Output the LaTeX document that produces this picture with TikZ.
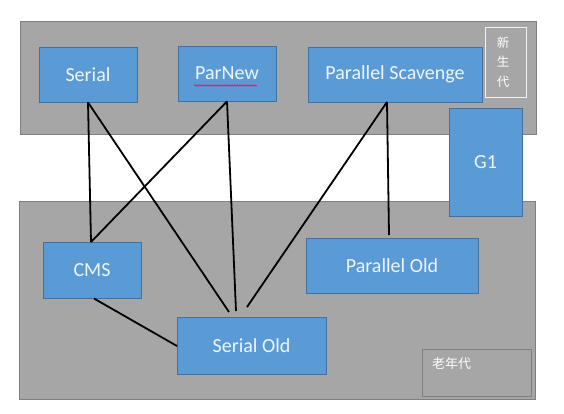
\documentclass[tikz,border=0pt]{standalone}
\usepackage{fontspec}
\setmainfont{Carlito}
\newfontfamily\cjk{Noto Sans CJK SC}
\usetikzlibrary{decorations.pathmorphing}
\definecolor{bandgray}{HTML}{A6A6A6}
\definecolor{bandedge}{HTML}{7F7F7F}
\definecolor{boxblue}{HTML}{5B9BD5}
\definecolor{boxedge}{HTML}{41719C}
\definecolor{boxtext}{HTML}{EEF5FC}
\tikzset{
  band/.style={fill=bandgray,draw=bandedge,line width=0.8pt},
  gcbox/.style={fill=boxblue,draw=boxedge,line width=0.8pt,inner sep=0pt,
    text=boxtext,font=\fontsize{20}{24}\selectfont},
  link/.style={black,line width=1.8pt},
  tag/.style={draw=#1,line width=0.9pt,inner sep=0pt,text=white},
}
\begin{document}
\begin{tikzpicture}[x=1pt,y=-1pt]
\useasboundingbox (0,0) rectangle (564,413);
% generation bands
\node[band,minimum width=516pt,minimum height=113pt,inner sep=0pt] (young) at (278,77.5) {};
\node[band,minimum width=516pt,minimum height=198pt,inner sep=0pt] (old) at (277,300) {};
% labels of bands
\node[tag=white!95!black,minimum width=41pt,minimum height=70pt] (younglabel) at (505.5,62) {};
\node[text=white,font=\cjk\fontsize{12.5}{19.5}\selectfont,align=center,inner sep=0pt] (youngtext) at (503,62) {新\\生\\代};
\node[tag=bandedge,minimum width=109pt,minimum height=47pt] (oldlabel) at (476.5,372.5) {};
\node[text=white,font=\cjk\fontsize{13}{15}\selectfont,anchor=west,inner sep=0pt] (oldtext) at (432,364) {老年代};
% collectors
\node[gcbox,minimum width=98pt,minimum height=55pt] (serial) at (88,74.5) {Serial};
\node[gcbox,minimum width=98pt,minimum height=55pt] (parnew) at (227,73.5) {ParNew};
\node[gcbox,minimum width=174pt,minimum height=55pt] (ps) at (395,74.5) {Parallel Scavenge};
\node[gcbox,minimum width=73pt,minimum height=108pt] (g1) at (485.5,162) {G1};
\node[gcbox,minimum width=98pt,minimum height=56pt] (cms) at (92,270) {CMS};
\node[gcbox,minimum width=172pt,minimum height=55pt] (po) at (392,265.5) {Parallel Old};
\node[gcbox,minimum width=149pt,minimum height=57pt] (so) at (251.5,345.5) {Serial Old};
% spell-check squiggle under ParNew
\coordinate (sqa) at (194,85.5);
\coordinate (sqb) at (257,85.5);
\draw[magenta!80!red,line width=0.6pt,decorate,decoration={snake,amplitude=0.7pt,segment length=2.5pt}] (sqa) -- (sqb);
% connector end points
\coordinate (psbot) at (387,102);
\coordinate (cmstop) at (91,242);
\coordinate (cmsbot) at (94,298.5);
\coordinate (so1) at (229,312);
\coordinate (so2) at (236,311);
\coordinate (so3) at (247,307);
\coordinate (potop) at (389,235);
\coordinate (soleft) at (177,346);
% connectors
\draw[link] (serial.south) -- (cmstop);
\draw[link] (serial.south) -- (so1);
\draw[link] (parnew.south) -- (cmstop);
\draw[link] (parnew.south) -- (so2);
\draw[link] (psbot) -- (so3);
\draw[link] (psbot) -- (potop);
\draw[link] (cmsbot) -- (soleft);
\end{tikzpicture}
\end{document}
